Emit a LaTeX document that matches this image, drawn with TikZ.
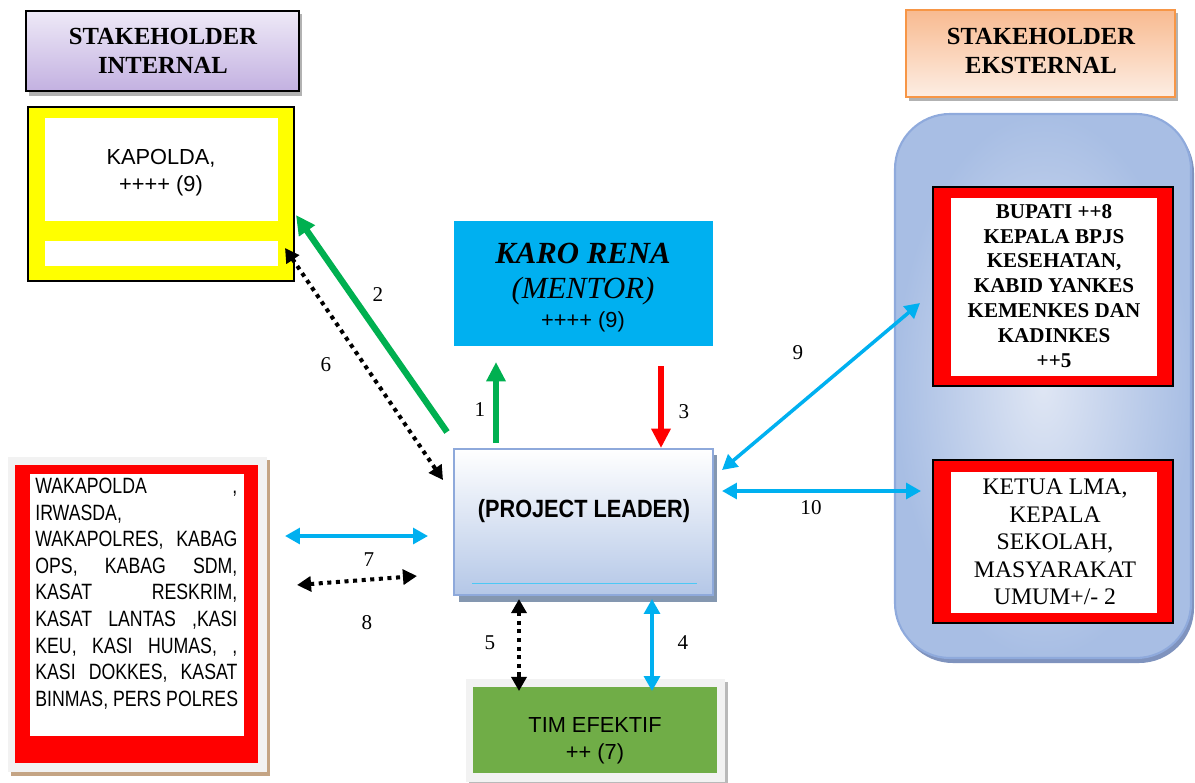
\documentclass[tikz,border=0pt]{standalone}
\usepackage{fontspec}
\setmainfont{Liberation Serif}
\setsansfont{Liberation Sans}
\newfontfamily\narrowsans[FakeStretch=0.8]{Liberation Sans}
\newfontfamily\leaderfont[FakeStretch=0.87]{Liberation Sans}
\usetikzlibrary{arrows.meta}

\definecolor{yellowbox}{HTML}{FFFF00}
\definecolor{redbox}{HTML}{FF0000}
\definecolor{greenbox}{HTML}{70AD47}
\definecolor{greenarrow}{HTML}{00B050}
\definecolor{cyanarrow}{HTML}{00B0F0}
\definecolor{intTop}{HTML}{EEE9F7}
\definecolor{intBot}{HTML}{C3B1E1}
\definecolor{extTop}{HTML}{F8BA90}
\definecolor{extBot}{HTML}{FDEEE4}
\definecolor{extBorder}{HTML}{F79646}
\definecolor{plBot}{HTML}{B4C7E7}
\definecolor{plBorder}{HTML}{8EA9DB}
\definecolor{plShadow}{HTML}{8497B0}
\definecolor{bbLight}{HTML}{DFE6F4}
\definecolor{bbDark}{HTML}{A8BEE4}
\definecolor{bbBorder}{HTML}{8FAADC}
\definecolor{bbShadow}{HTML}{7F93BE}
\definecolor{leftBg}{HTML}{F2F2F2}
\definecolor{leftShadow}{HTML}{C4A484}

% one justified line of the polres list
\newcommand{\jl}[1]{\makebox[115pt][s]{#1}}

\begin{document}
\begin{tikzpicture}[x=0.02cm, y=-0.02cm,
	hdr/.style={font=\bfseries\fontsize{14}{16.4}\selectfont, align=center, inner sep=0pt},
	sans12/.style={font=\sffamily\fontsize{12.4}{15.3}\selectfont, align=center, inner sep=0pt},
	num/.style={font=\fontsize{12}{14}\selectfont, inner sep=0pt},
	green arrow/.style={greenarrow, line width=3.6pt, -{Triangle[width=10.5pt,length=11pt]}},
	blue arrow/.style={cyanarrow, line width=2pt, {Triangle[width=9pt,length=8.5pt]}-{Triangle[width=9pt,length=8.5pt]}},
	dot arrow/.style={black, line width=2.3pt, dash pattern=on 2.3pt off 2.6pt, {Triangle[width=8.5pt,length=8pt]}-{Triangle[width=8.5pt,length=8pt]}}]
	\useasboundingbox (0,0) rectangle (1195,782);

	% Stakeholder internal
	\fill[gray!60] (29,14) rectangle (302,96);
	\shade[top color=intTop, bottom color=intBot, draw=black, line width=1.1pt] (26,11) rectangle (299,91);
	\node[hdr] (intl) at (163,51) {STAKEHOLDER\\INTERNAL};

	% Kapolda
	\draw[fill=yellowbox, line width=0.9pt] (28,107) rectangle (294,281);
	\fill[white] (45,118) rectangle (278,221);
	\fill[white] (45,241) rectangle (278,266);
	\node[sans12] (kapolda) at (161,173) {KAPOLDA,\\++++ (9)};

	% Karo Rena (mentor)
	\fill[cyanarrow] (454,221) rectangle (713,346);
	\node[anchor=base, inner sep=0pt, font=\bfseries\itshape\fontsize{17.5}{20}\selectfont] (karo) at (583,263) {KARO RENA};
	\node[anchor=base, inner sep=0pt, font=\itshape\fontsize{17.5}{20}\selectfont] (mentor) at (583,298) {(MENTOR)};
	\node[anchor=base, sans12] (karoval) at (583,327) {++++ (9)};

	% Project leader
	\fill[plShadow] (459,455) rectangle (717,602);
	\shade[top color=white, bottom color=plBot, draw=plBorder, line width=1.2pt] (454,449) rectangle (713,595);
	\draw[cyanarrow!70, line width=0.4pt] (472,583) -- (697,583);
	\node[anchor=base, inner sep=0pt, font=\leaderfont\bfseries\fontsize{14.2}{17}\selectfont] (pl) at (584,517) {(PROJECT LEADER)};

	% Tim efektif
	\fill[gray!55] (469,682) rectangle (728,785);
	\fill[leftBg] (466,679) rectangle (725,782);
	\fill[greenbox] (473,687) rectangle (717,773);
	\node[sans12] (tim) at (595,741) {TIM EFEKTIF\\++ (7)};

	% Polres list
	\fill[leftShadow] (11,460) rectangle (270,776);
	\fill[leftBg] (8,457) rectangle (267,772);
	\fill[redbox] (15,465) rectangle (258,763);
	\fill[white] (30,474) rectangle (244,736);
	\node[anchor=north west, inner sep=0pt, align=left, font=\narrowsans\fontsize{12.6}{15.1}\selectfont] (polres) at (35,478)
		{\jl{WAKAPOLDA ,}\\IRWASDA,\\\jl{WAKAPOLRES, KABAG}\\\jl{OPS, KABAG SDM,}\\\jl{KASAT RESKRIM,}\\\jl{KASAT LANTAS ,KASI}\\\jl{KEU, KASI HUMAS, ,}\\\jl{KASI DOKKES, KASAT}\\BINMAS, PERS POLRES};

	% Stakeholder eksternal
	\fill[gray!60] (909,13) rectangle (1178,101);
	\shade[top color=extTop, bottom color=extBot, draw=extBorder, line width=1pt] (906,10) rectangle (1175,97);
	\node[hdr] (extl) at (1041,51) {STAKEHOLDER\\EKSTERNAL};

	% Eksternal group
	\fill[bbShadow, rounded corners=1.1cm] (898,118) rectangle (1194,663);
	\shade[inner color=bbLight, outer color=bbDark, draw=bbBorder, line width=1.2pt, rounded corners=1.1cm] (895,114) rectangle (1191,658);

	% Bupati
	\draw[fill=redbox, line width=1.1pt] (933,187) rectangle (1173,386);
	\fill[white] (951,198) rectangle (1157,376);
	\node[inner sep=0pt, align=center, font=\bfseries\fontsize{12}{14.2}\selectfont] (bupati) at (1054,286)
		{BUPATI ++8\\KEPALA BPJS\\KESEHATAN,\\KABID YANKES\\KEMENKES DAN\\KADINKES\\++5};

	% Ketua LMA
	\draw[fill=redbox, line width=1.1pt] (933,460) rectangle (1173,623);
	\fill[white] (951,472) rectangle (1157,613);
	\node[inner sep=0pt, align=center, font=\fontsize{13.5}{15.6}\selectfont] (ketua) at (1055,542)
		{KETUA LMA,\\KEPALA\\SEKOLAH,\\MASYARAKAT\\UMUM+/- 2};

	% Arrow ends
	\coordinate (up1a) at (496,443);
	\coordinate (up1b) at (496,362);
	\coordinate (up2a) at (447,432);
	\coordinate (up2b) at (296,215);
	\coordinate (dn3a) at (661,366);
	\coordinate (dn3b) at (661,448);
	\coordinate (tim4a) at (652,599);
	\coordinate (tim4b) at (652,691);
	\coordinate (tim5a) at (519,599);
	\coordinate (tim5b) at (519,691);
	\coordinate (kap6a) at (285,248);
	\coordinate (kap6b) at (443,480);
	\coordinate (pol7a) at (285,536);
	\coordinate (pol7b) at (428,536);
	\coordinate (pol8a) at (297,585);
	\coordinate (pol8b) at (417,576);
	\coordinate (ext9a) at (722,470);
	\coordinate (ext9b) at (920,303);
	\coordinate (ext10a) at (722,491);
	\coordinate (ext10b) at (921,491);

	% Arrows
	\draw[green arrow] (up1a) -- (up1b);
	\draw[green arrow] (up2a) -- (up2b);
	\draw[green arrow, redbox] (dn3a) -- (dn3b);
	\draw[blue arrow] (tim4a) -- (tim4b);
	\draw[dot arrow] (tim5a) -- (tim5b);
	\draw[dot arrow] (kap6a) -- (kap6b);
	\draw[blue arrow] (pol7a) -- (pol7b);
	\draw[dot arrow] (pol8a) -- (pol8b);
	\draw[blue arrow] (ext9a) -- (ext9b);
	\draw[blue arrow] (ext10a) -- (ext10b);

	% Numbers
	\node[num] (n1) at (480,410) {1};
	\node[num] (n2) at (378,295) {2};
	\node[num] (n3) at (684,412) {3};
	\node[num] (n4) at (683,643) {4};
	\node[num] (n5) at (490,643) {5};
	\node[num] (n6) at (326,365) {6};
	\node[num] (n7) at (369,560) {7};
	\node[num] (n8) at (367,623) {8};
	\node[num] (n9) at (798,353) {9};
	\node[num] (n10) at (811,508) {10};
\end{tikzpicture}
\end{document}
